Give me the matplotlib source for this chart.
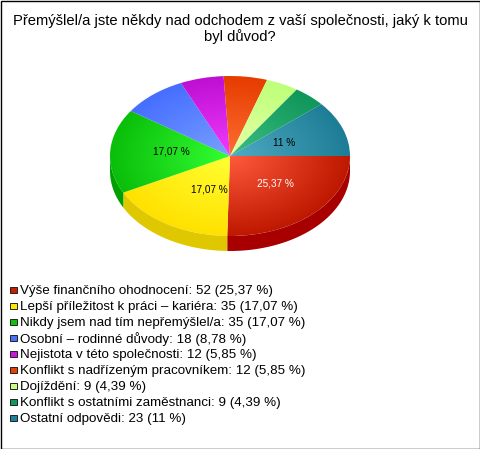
#!/usr/bin/env python3
import numpy as np
import matplotlib
matplotlib.use('Agg')
import matplotlib.pyplot as plt
from matplotlib.colors import LinearSegmentedColormap
from matplotlib.patches import Wedge, Polygon, Rectangle
from matplotlib.transforms import Affine2D

title_lines = ['Přemýšlel/a jste někdy nad odchodem z vaší společnosti, jaký k tomu', 'byl důvod?']
values = [52, 35, 35, 18, 12, 12, 9, 9, 23]
legend_labels = [
    'Výše finančního ohodnocení: 52 (25,37 %)',
    'Lepší příležitost k práci – kariéra: 35 (17,07 %)',
    'Nikdy jsem nad tím nepřemýšlel/a: 35 (17,07 %)',
    'Osobní – rodinné důvody: 18 (8,78 %)',
    'Nejistota v této společnosti: 12 (5,85 %)',
    'Konflikt s nadřízeným pracovníkem: 12 (5,85 %)',
    'Dojíždění: 9 (4,39 %)',
    'Konflikt s ostatními zaměstnanci: 9 (4,39 %)',
    'Ostatní odpovědi: 23 (11 %)',
]
inner_colors = ['#ff5a3c', '#ffff32', '#32ff32', '#78a0ff', '#f03cff',
                '#ff6e32', '#e6ffaa', '#3cbe82', '#50aac3']
outer_colors = ['#be1900', '#ffe100', '#0abe0a', '#466eff', '#be0fd2',
                '#e63c00', '#beff78', '#0f965a', '#1e7d96']
side_colors = ['#a80000', '#e0c800', '#00a000', '#3050c0', '#9000a0',
               '#b03000', '#98cc60', '#0c7848', '#186478']
legend_colors = ['#c81e00', '#ffe600', '#10c010', '#4870ff', '#c818d8',
                 '#e84000', '#c8ff80', '#109860', '#208098']
pct_labels = ['25,37 %', '17,07 %', '17,07 %', '11 %']
pct_x = [275, 209, 171, 284]
pct_y = [183, 189, 151, 143]
pct_colors = ['white', 'black', 'black', 'black']

CX, CY, RX, RY, DEPTH = 230, 156, 120, 80, 15

plt.rcParams['font.family'] = ['Liberation Sans', 'DejaVu Sans']

fig = plt.figure(figsize=(4.8, 4.49), dpi=100)
ax = fig.add_axes([0, 0, 1, 1])
ax.set_xlim(0, 480)
ax.set_ylim(449, 0)
ax.axis('off')

ellipse = Affine2D().scale(RX, RY).translate(CX, CY) + ax.transData

# radial distance over the unit disc, used for the slice shading
grid = np.linspace(-1, 1, 300)
gx, gy = np.meshgrid(grid, grid)
radial = np.hypot(gx, gy)

angles = np.concatenate([[0], np.cumsum(values) / np.sum(values) * 360])

# side wall of the front half
for i in range(len(values)):
    a0, a1 = angles[i], min(angles[i + 1], 180)
    if a0 >= 180:
        continue
    t = np.radians(np.linspace(a0, a1, 60))
    px = CX + RX * np.cos(t)
    py = CY + RY * np.sin(t)
    pts = np.vstack([np.column_stack([px, py]),
                     np.column_stack([px[::-1], py[::-1] + DEPTH])])
    ax.add_patch(Polygon(pts, closed=True, facecolor=side_colors[i], edgecolor='none'))

# top face, each slice is a gradient clipped to its wedge
for i in range(len(values)):
    wedge = Wedge((0, 0), 1, angles[i], angles[i + 1], transform=ellipse,
                  facecolor='none', edgecolor='none')
    ax.add_patch(wedge)
    cmap = LinearSegmentedColormap.from_list('s', [inner_colors[i], outer_colors[i]])
    im = ax.imshow(radial, cmap=cmap, vmin=0, vmax=1, aspect='auto', origin='upper',
                   extent=(-1, 1, 1, -1), transform=ellipse, interpolation='bilinear')
    im.set_clip_path(wedge)

ax.set_xlim(0, 480)
ax.set_ylim(449, 0)

for label, x, y, c in zip(pct_labels, pct_x, pct_y, pct_colors):
    ax.text(x, y, label, color=c, fontsize=7.2, ha='center', va='center')

ax.text(240, 21, title_lines[0], fontsize=10.6, ha='center', va='center')
ax.text(240, 36.5, title_lines[1], fontsize=10.6, ha='center', va='center')

for i, label in enumerate(legend_labels):
    y = 290 + i * 16
    ax.add_patch(Rectangle((10, y - 3.5), 6.5, 6.5, facecolor=legend_colors[i],
                           edgecolor='#222222', linewidth=0.7))
    ax.text(20, y + 0.7, label, fontsize=9.67, ha='left', va='center')

ax.add_patch(Rectangle((0.5, 0.5), 479, 448, facecolor='none', edgecolor='black', linewidth=1))

fig.savefig('out.png', dpi=100)
